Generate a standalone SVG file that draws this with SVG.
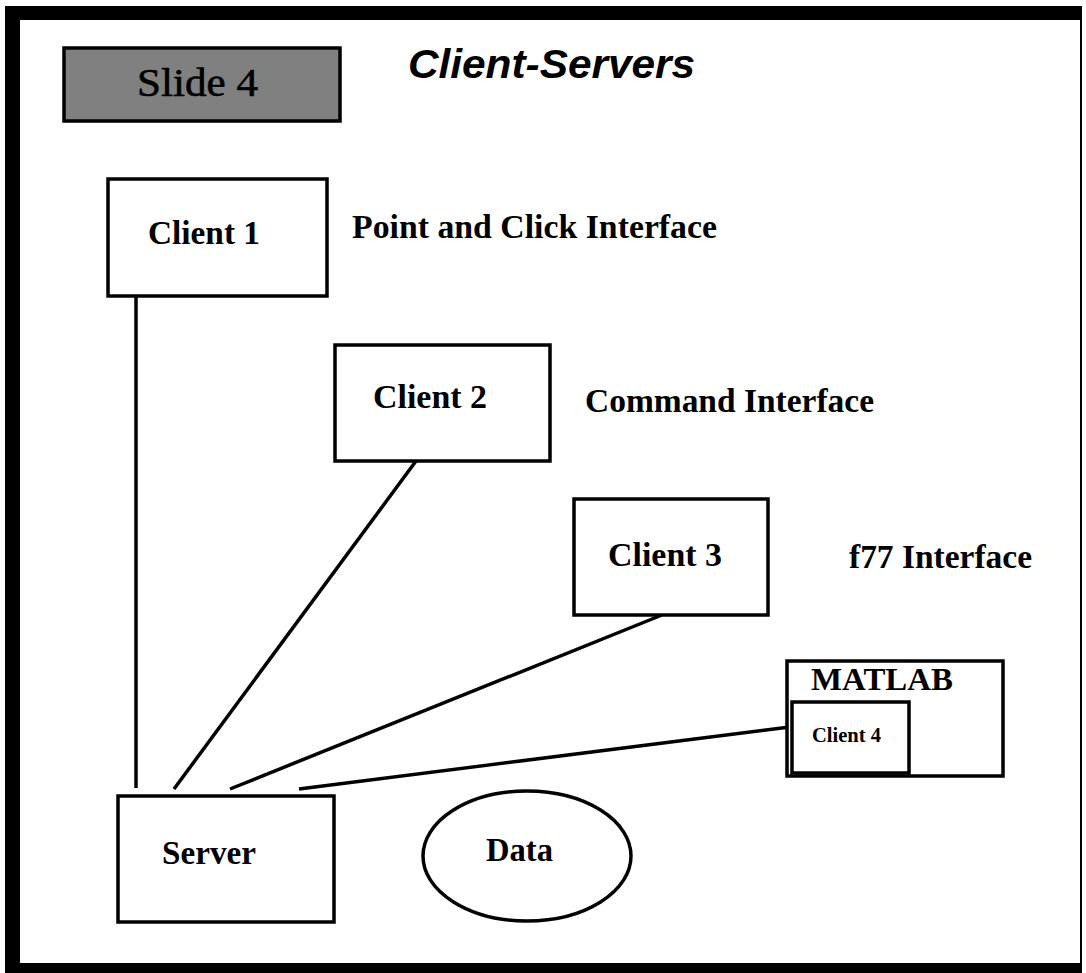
<svg xmlns="http://www.w3.org/2000/svg" width="1086" height="973" viewBox="0 0 1086 973">
<style>
.box{fill:#fff;stroke:#000;stroke-width:3.5}
.lbl{font-family:"Liberation Serif",serif;font-weight:bold;font-size:34px;fill:#000}
.con{stroke:#000;stroke-width:3.5;fill:none}
</style>
<rect x="0" y="0" width="1086" height="973" fill="#fff"/>
<rect x="5" y="6" width="1077" height="967" fill="#000"/>
<rect x="20" y="20" width="1060" height="943" fill="#fff"/>
<g id="slide4">
<rect x="64" y="48" width="276" height="73" fill="#808080" stroke="#000" stroke-width="3.5"/>
<text x="137" y="96" font-family="Liberation Serif, serif" font-size="41" stroke="#000" stroke-width="0.6" textLength="121" lengthAdjust="spacingAndGlyphs">Slide 4</text>
</g>
<g id="title">
<text x="408" y="78" font-family="Liberation Sans, Arial, sans-serif" font-weight="bold" font-style="italic" font-size="40" textLength="287" lengthAdjust="spacingAndGlyphs">Client-Servers</text>
</g>
<g id="connectors">
<line class="con" x1="136" y1="296" x2="136" y2="788"/>
<line class="con" x1="416" y1="461" x2="174" y2="789"/>
<line class="con" x1="662" y1="615" x2="230" y2="789"/>
<line class="con" x1="790" y1="727" x2="299" y2="789"/>
</g>
<g id="client1">
<rect class="box" x="108" y="179" width="219" height="117"/>
<text class="lbl" x="148" y="244" textLength="112" lengthAdjust="spacingAndGlyphs">Client 1</text>
</g>
<g id="label1">
<text class="lbl" x="352" y="238" textLength="365" lengthAdjust="spacingAndGlyphs">Point and Click Interface</text>
</g>
<g id="client2">
<rect class="box" x="335" y="345" width="215" height="116"/>
<text class="lbl" x="373" y="408" textLength="114" lengthAdjust="spacingAndGlyphs">Client 2</text>
</g>
<g id="label2">
<text class="lbl" x="585" y="412" textLength="289" lengthAdjust="spacingAndGlyphs">Command Interface</text>
</g>
<g id="client3">
<rect class="box" x="574" y="499" width="194" height="116"/>
<text class="lbl" x="608" y="566" textLength="114" lengthAdjust="spacingAndGlyphs">Client 3</text>
</g>
<g id="label3">
<text class="lbl" x="849" y="568" textLength="183" lengthAdjust="spacingAndGlyphs">f77 Interface</text>
</g>
<g id="matlab">
<rect class="box" x="787" y="661" width="216" height="115"/>
<text class="lbl" x="811" y="690" style="font-size:31px" textLength="142" lengthAdjust="spacingAndGlyphs">MATLAB</text>
</g>
<g id="client4">
<rect class="box" x="792" y="702" width="117" height="71"/>
<text class="lbl" x="812" y="742" style="font-size:20px" textLength="69" lengthAdjust="spacingAndGlyphs">Client 4</text>
</g>
<g id="server">
<rect class="box" x="118" y="796" width="216" height="126"/>
<text class="lbl" x="162" y="864" textLength="94" lengthAdjust="spacingAndGlyphs">Server</text>
</g>
<g id="data">
<ellipse class="box" cx="527" cy="856" rx="104" ry="65"/>
<text class="lbl" x="486" y="861" textLength="67" lengthAdjust="spacingAndGlyphs">Data</text>
</g>
</svg>
